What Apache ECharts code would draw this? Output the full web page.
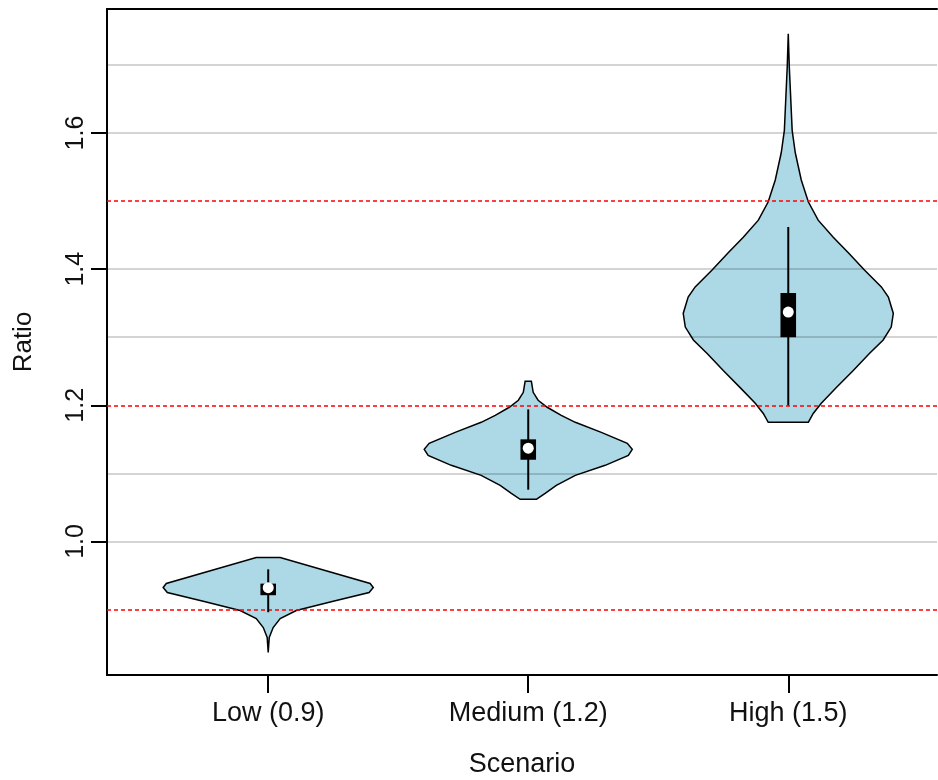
<!DOCTYPE html>
<html>
<head>
<meta charset="utf-8">
<script src="https://cdn.jsdelivr.net/npm/echarts@6/dist/echarts.min.js"></script>
<style>
  html, body { margin: 0; padding: 0; background: #fff; }
  #chart { width: 938px; height: 780px; }
</style>
</head>
<body>
<div id="chart"></div>
<script>
const categories = ['Low (0.9)', 'Medium (1.2)', 'High (1.5)'];

// violin outlines: ratio value and half width (in category units), bottom to top
const lowY = [0.837, 0.8588, 0.8735, 0.8868, 0.8985, 0.9118, 0.925, 0.9324, 0.9382, 0.9574, 0.9765];
const lowHalfWidth = [0, 0.004, 0.019, 0.046, 0.108, 0.246, 0.388, 0.404, 0.392, 0.219, 0.046];

const mediumY = [1.0618, 1.0706, 1.0824, 1.0971, 1.1118, 1.1265, 1.1353, 1.1441, 1.1603, 1.175, 1.1853, 1.1971, 1.2074, 1.2191, 1.2353];
const mediumHalfWidth = [0.031, 0.065, 0.108, 0.181, 0.296, 0.385, 0.4, 0.381, 0.281, 0.181, 0.127, 0.073, 0.038, 0.019, 0.012];

const highY = [1.175, 1.188, 1.203, 1.226, 1.251, 1.276, 1.296, 1.315, 1.335, 1.359, 1.374, 1.399, 1.424, 1.447, 1.472, 1.499, 1.531, 1.571, 1.604, 1.697, 1.746];
const highHalfWidth = [0.077, 0.096, 0.127, 0.185, 0.25, 0.312, 0.365, 0.396, 0.404, 0.385, 0.358, 0.292, 0.231, 0.173, 0.115, 0.077, 0.05, 0.027, 0.015, 0.004, 0];

// box plot inside each violin
const q1 = [0.921, 1.120, 1.300];
const q3 = [0.938, 1.150, 1.365];
const medians = [0.932, 1.137, 1.337];
const whiskerLow = [0.896, 1.076, 1.200];
const whiskerHigh = [0.959, 1.194, 1.462];

// horizontal guides
const gridValues = [1.0, 1.1, 1.3, 1.4, 1.6, 1.7];
const referenceValues = [0.9, 1.2, 1.5];
const yTicks = [1.0, 1.2, 1.4, 1.6];
const xTicks = [1, 2, 3];

const violinY = [lowY, mediumY, highY];
const violinHalfWidth = [lowHalfWidth, mediumHalfWidth, highHalfWidth];
const BOX_HALF = 0.03;
const FONT = '"Liberation Sans", Arial, sans-serif';

// plot region runs past the right edge of the picture, so x max is cut short
const X_MIN = 0.38;
const X_MAX = 3.572;
const Y_MIN = 0.80376;
const Y_MAX = 1.78224;

const chart = echarts.init(document.getElementById('chart'));

const renderViolin = (params, api) => {
    const i = params.dataIndex;
    const x = api.value(0);
    const ys = violinY[i];
    const ws = violinHalfWidth[i];
    const points = [];
    for (let k = 0; k < ys.length; k++) {
        points.push(api.coord([x + ws[k], ys[k]]));
    }
    for (let k = ys.length - 1; k >= 0; k--) {
        points.push(api.coord([x - ws[k], ys[k]]));
    }
    return {
        type: 'polygon',
        shape: { points },
        style: { fill: '#add8e6', stroke: '#000', lineWidth: 1.5 },
    };
};

const renderBox = (params, api) => {
    const i = params.dataIndex;
    const x = api.value(0);
    const top = api.coord([x, whiskerHigh[i]]);
    const bottom = api.coord([x, whiskerLow[i]]);
    const b1 = api.coord([x - BOX_HALF, q3[i]]);
    const b2 = api.coord([x + BOX_HALF, q1[i]]);
    const m = api.coord([x, medians[i]]);
    return {
        type: 'group',
        children: [
            {
                type: 'line',
                shape: { x1: top[0], y1: top[1], x2: bottom[0], y2: bottom[1] },
                style: { stroke: '#000', lineWidth: 2 },
            },
            {
                type: 'rect',
                shape: { x: b1[0], y: b1[1], width: b2[0] - b1[0], height: b2[1] - b1[1] },
                style: { fill: '#000' },
            },
            {
                type: 'circle',
                shape: { cx: m[0], cy: m[1], r: 5.5 },
                style: { fill: '#fff' },
            },
        ],
    };
};

const guideLines = [
    ...gridValues.map(v => ({ yAxis: v, lineStyle: { color: 'rgba(0,0,0,0.17)', width: 2, type: 'solid' } })),
    ...referenceValues.map(v => ({ yAxis: v, lineStyle: { color: '#ff0000', width: 1.5, type: [4, 3] } })),
];

const option = {
    animation: false,
    backgroundColor: '#fff',
    grid: {
        left: 107,
        top: 9,
        right: 1,
        height: 666,
        show: false,
        outerBoundsMode: 'none',
    },
    xAxis: [
        {
            type: 'value',
            min: X_MIN,
            max: X_MAX,
            name: 'Scenario',
            nameLocation: 'middle',
            nameGap: 76,
            nameTextStyle: { color: '#111', fontSize: 27, fontFamily: FONT },
            axisLine: { show: true, lineStyle: { color: '#000', width: 2 } },
            axisTick: {
                show: true,
                customValues: xTicks,
                length: 18,
                lineStyle: { color: '#000', width: 2 },
            },
            axisLabel: {
                customValues: xTicks,
                margin: 25,
                color: '#111',
                fontSize: 27,
                fontFamily: FONT,
                formatter: v => categories[Math.round(v) - 1],
            },
            splitLine: { show: false },
        },
        {
            // top border of the plot box
            type: 'value',
            position: 'top',
            min: X_MIN,
            max: X_MAX,
            axisLine: { show: true, lineStyle: { color: '#000', width: 2 } },
            axisTick: { show: false },
            axisLabel: { show: false },
            splitLine: { show: false },
        },
    ],
    yAxis: {
        type: 'value',
        min: Y_MIN,
        max: Y_MAX,
        name: 'Ratio',
        nameLocation: 'middle',
        nameGap: 70,
        nameTextStyle: { color: '#111', fontSize: 26, fontFamily: FONT },
        axisLine: { show: true, lineStyle: { color: '#000', width: 2 } },
        axisTick: {
            show: true,
            customValues: yTicks,
            length: 16,
            lineStyle: { color: '#000', width: 2 },
        },
        axisLabel: {
            customValues: yTicks,
            rotate: 90,
            margin: 18,
            color: '#111',
            fontSize: 25,
            fontFamily: FONT,
            formatter: v => v.toFixed(1),
        },
        splitLine: { show: false },
    },
    series: [
        {
            type: 'custom',
            name: 'violin',
            z: 2,
            renderItem: renderViolin,
            encode: { x: 0, y: 1 },
            data: categories.map((c, i) => [i + 1, medians[i]]),
            markLine: {
                silent: true,
                symbol: 'none',
                z: 5,
                label: { show: false },
                data: guideLines,
            },
        },
        {
            type: 'custom',
            name: 'box',
            z: 6,
            renderItem: renderBox,
            encode: { x: 0, y: 1 },
            data: categories.map((c, i) => [i + 1, medians[i]]),
        },
    ],
};

chart.setOption(option);
</script>
</body>
</html>
